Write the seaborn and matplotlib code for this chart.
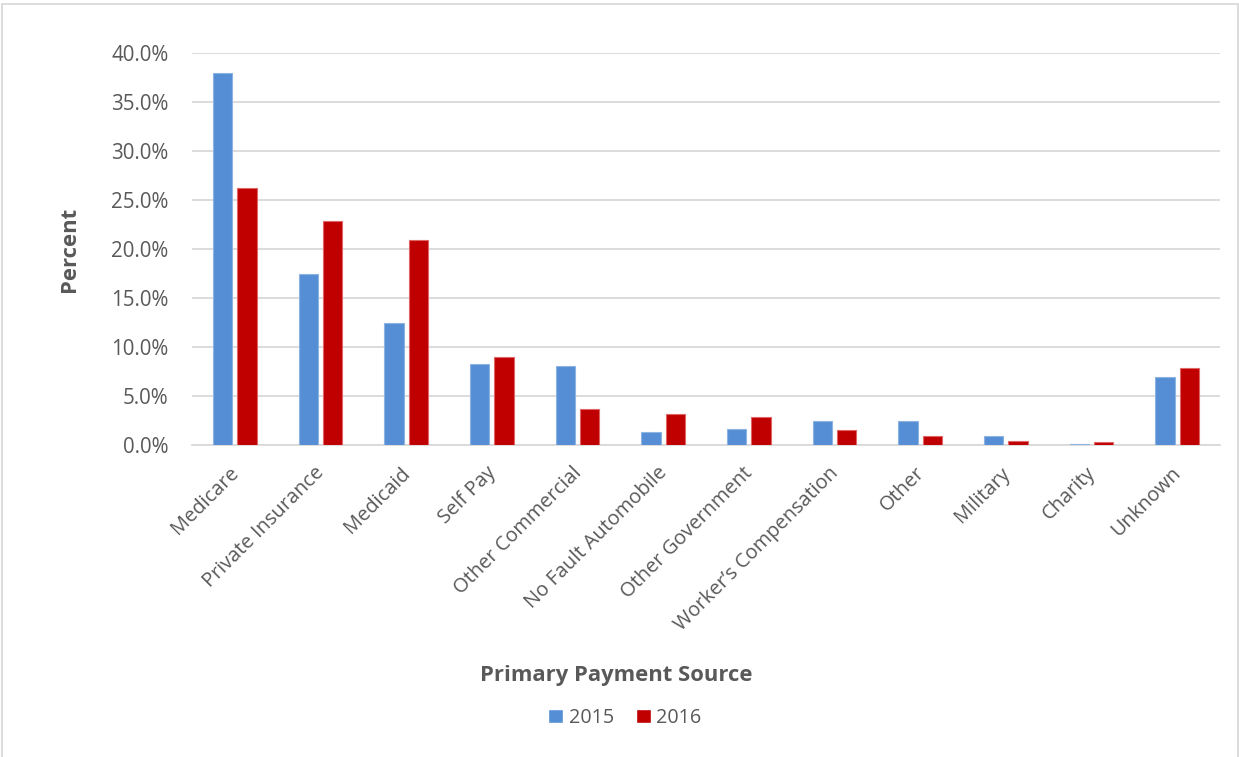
import matplotlib
matplotlib.use("Agg")
import matplotlib.pyplot as plt
import matplotlib.patches as mpatches
import matplotlib.transforms as mtransforms
from matplotlib.ticker import FuncFormatter
import pandas as pd
import seaborn as sns

# Share of discharges by primary payment source, 2015 vs 2016 (percent)
sources = ["Medicare", "Private Insurance", "Medicaid", "Self Pay", "Other Commercial",
           "No Fault Automobile", "Other Government", "Worker\u2019s Compensation",
           "Other", "Military", "Charity", "Unknown"]
pct_2015 = [38.0, 17.4, 12.5, 8.3, 8.1, 1.3, 1.6, 2.4, 2.5, 0.9, 0.1, 6.9]
pct_2016 = [26.2, 22.9, 20.9, 9.0, 3.7, 3.2, 2.9, 1.5, 0.9, 0.4, 0.3, 7.9]
years = ["2015", "2016"]
y_ticks = [0, 5, 10, 15, 20, 25, 30, 35, 40]

colors = {"2015": "#558ED5", "2016": "#C00000"}
edges = {"2015": "#8DB3E2", "2016": "#E06666"}
text_gray = "#595959"

df = pd.DataFrame({
    "source": sources * 2,
    "year": [years[0]] * len(sources) + [years[1]] * len(sources),
    "pct": pct_2015 + pct_2016,
})

sns.set_theme(style="white")
plt.rcParams["font.family"] = ["Open Sans", "DejaVu Sans"]

fig = plt.figure(figsize=(12.39, 7.57), dpi=100)
ax = fig.add_axes([192 / 1239, 1 - 445 / 757, 1028 / 1239, (445 - 53) / 757])

sns.barplot(data=df, x="source", y="pct", hue="year", order=sources, hue_order=years,
            palette=colors, saturation=1, width=0.565, gap=0.2, ax=ax,
            legend=False, zorder=3)

# thin lighter outline on each bar
for container, yr in zip(ax.containers, years):
    for bar in container:
        bar.set_edgecolor(edges[yr])
        bar.set_linewidth(0.8)

ax.set_xlim(-0.5, len(sources) - 0.5)
ax.set_ylim(0, 40)
ax.set_yticks(y_ticks)
ax.yaxis.set_major_formatter(FuncFormatter(lambda v, _: f"{v:.1f}%"))
ax.grid(axis="y", color="#D9D9D9", linewidth=1.3, zorder=0)
ax.grid(axis="x", visible=False)
for side in ["top", "right", "left"]:
    ax.spines[side].set_visible(False)
ax.spines["bottom"].set_color("#D9D9D9")
ax.spines["bottom"].set_linewidth(1.3)
ax.tick_params(axis="y", length=0, pad=17, labelsize=14.8, labelcolor=text_gray)
ax.tick_params(axis="x", length=0, pad=13, labelsize=14.4, labelcolor=text_gray)

ax.set_xticks(range(len(sources)))
ax.set_xticklabels(sources, rotation=45, ha="right", va="top", rotation_mode="anchor")
shift = mtransforms.ScaledTranslation(-6 / 100, 0, fig.dpi_scale_trans)
for lbl in ax.get_xticklabels():
    lbl.set_transform(lbl.get_transform() + shift)

ax.set_xlabel("")
ax.set_ylabel("Percent", fontsize=15.8, fontweight="bold", color=text_gray)
ax.yaxis.set_label_coords(-112 / 1028, 0.5)

fig.text(616 / 1239, 1 - 676 / 757, "Primary Payment Source", ha="center", va="center",
         fontsize=15.8, fontweight="bold", color=text_gray)

handles = [mpatches.Patch(facecolor=colors[y], label=y) for y in years]
fig.legend(handles=handles, loc="center", bbox_to_anchor=(625 / 1239, 1 - 718 / 757),
           ncol=2, frameon=False, fontsize=14.2, handlelength=0.75, handleheight=0.75,
           handletextpad=0.3, columnspacing=1.1, labelcolor=text_gray)

# chart-area border
fig.add_artist(mpatches.Rectangle((2 / 1239, -0.01), 1236 / 1239, 1 - 4 / 757 + 0.01,
                                  transform=fig.transFigure, fill=False,
                                  edgecolor="#D9D9D9", linewidth=1.3))

fig.savefig("out.png", dpi=100)
